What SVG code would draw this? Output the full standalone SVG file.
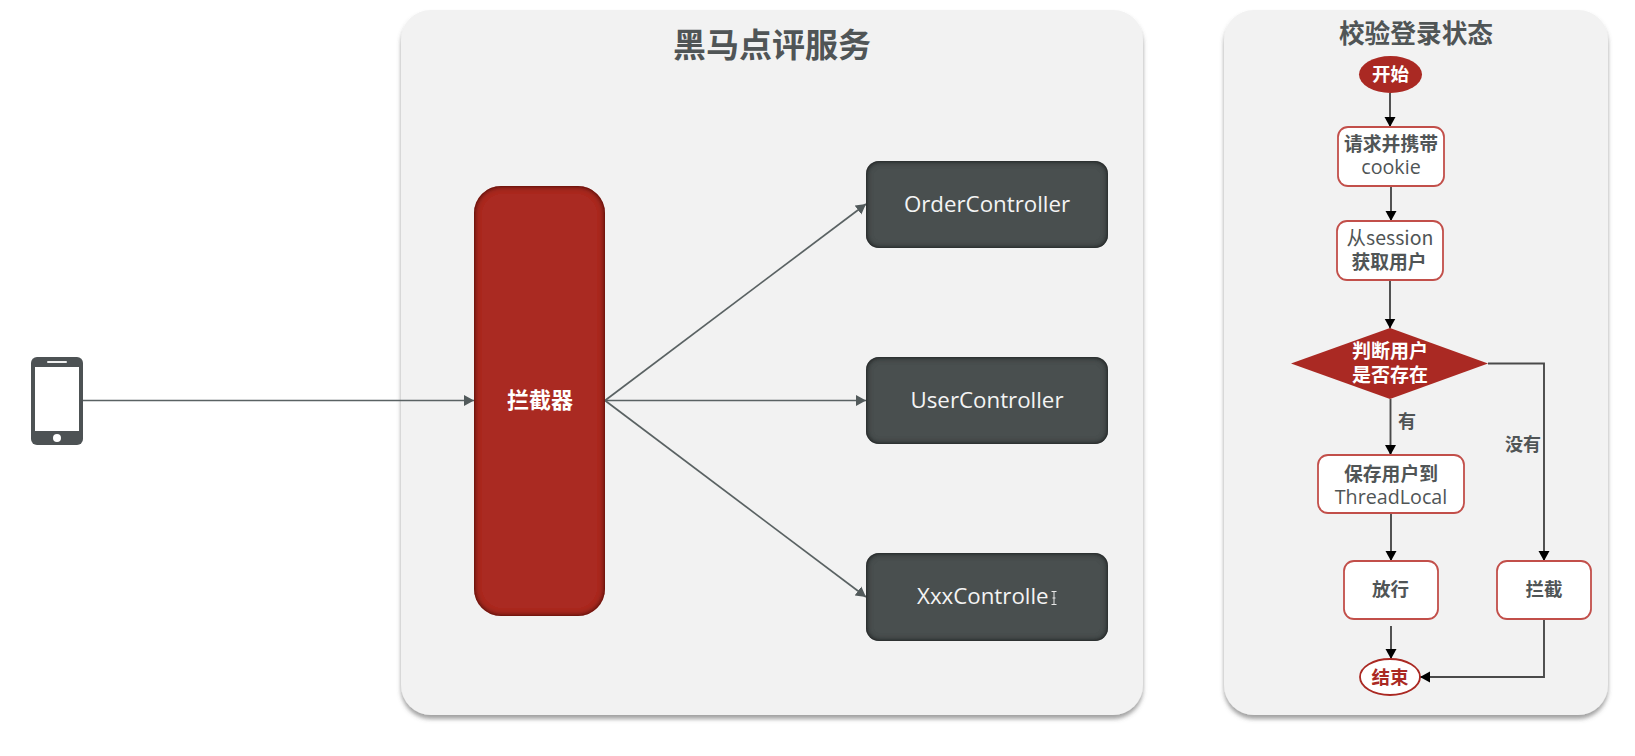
<svg xmlns="http://www.w3.org/2000/svg" width="1635" height="756" viewBox="0 0 1635 756">
<style>
text{font-family:"Open Sans","Noto Sans CJK SC",sans-serif;text-anchor:middle;fill:#505556}
.cjk{font-family:"Noto Sans CJK SC",sans-serif;font-weight:700}
.w{fill:#fff}
.r{fill:#aa2923}
.ctl{font-size:22.300px;fill:#f4f4f4}
.f{font-size:19.700px}
.box{fill:#fff;stroke:#c24f4a;stroke-width:1.800}
.dark{fill:#4a4f50;filter:url(#innerDark)}
.panel{fill:#f2f2f2;filter:url(#panelShadow)}
.gl{fill:none;stroke:#5a6263;stroke-width:1.700}
.bl{fill:none;stroke:#4a4a4a;stroke-width:1.900}
</style>
<defs>
<marker id="ga" markerUnits="userSpaceOnUse" markerWidth="12" markerHeight="12" refX="10" refY="6" orient="auto"><path d="M0 0.500L10 6L0 11.500Z" fill="#525a5b"/></marker>
<marker id="ka" markerUnits="userSpaceOnUse" markerWidth="12" markerHeight="12" refX="10" refY="5.500" orient="auto"><path d="M0 0L10 5.500L0 11Z" fill="#000"/></marker>
<filter id="panelShadow" x="-5%" y="-5%" width="110%" height="110%"><feDropShadow dx="0" dy="4" stdDeviation="2.200" flood-color="#555" flood-opacity="0.55"/></filter>
<filter id="innerDark" x="-5%" y="-5%" width="110%" height="110%">
<feGaussianBlur in="SourceAlpha" stdDeviation="3" result="b"/>
<feComposite in="SourceAlpha" in2="b" operator="arithmetic" k1="-1.600" k2="1.600" k3="0" k4="0" result="e"/>
<feFlood flood-color="#000" flood-opacity="0.8"/><feComposite in2="e" operator="in" result="s"/>
<feMerge><feMergeNode in="SourceGraphic"/><feMergeNode in="s"/></feMerge>
</filter>
</defs>
<rect width="1635" height="756" fill="#fff"/>
<g id="panel-service"><rect class="panel" x="401" y="10" width="742" height="705" rx="30"/><text class="cjk" x="772" y="57" font-size="33">黑马点评服务</text></g>
<g id="panel-check"><rect class="panel" x="1224" y="10" width="384" height="705" rx="30"/><text class="cjk" x="1416" y="42.500" font-size="25.700">校验登录状态</text></g>
<g id="connectors">
<path class="gl" d="M83 400.500H474" marker-end="url(#ga)"/>
<path class="gl" d="M605 400.500L866 204" marker-end="url(#ga)"/>
<path class="gl" d="M605 400.500H866" marker-end="url(#ga)"/>
<path class="gl" d="M605 400.500L866 597" marker-end="url(#ga)"/>
<path class="bl" d="M1390 93V127" marker-end="url(#ka)"/>
<path class="bl" d="M1391 186V221" marker-end="url(#ka)"/>
<path class="bl" d="M1390 280V328.500" marker-end="url(#ka)"/>
<path class="bl" d="M1390.500 399V455" marker-end="url(#ka)"/>
<path class="bl" d="M1391 513V561" marker-end="url(#ka)"/>
<path class="bl" d="M1391 626V659" marker-end="url(#ka)"/>
<path class="bl" d="M1488 363.500H1544V561" marker-end="url(#ka)"/>
<path class="bl" d="M1544 619V677H1420" marker-end="url(#ka)"/>
</g>
<g id="phone"><rect x="31" y="357" width="52" height="88" rx="6" fill="#4d5254"/><rect x="35" y="367" width="44" height="64" fill="#fff"/><rect x="47" y="361" width="20" height="2" rx="1" fill="#f0f0f0"/><ellipse cx="57" cy="438" rx="4" ry="4" fill="#fff"/></g>
<g id="interceptor"><rect x="474" y="186" width="131" height="430" rx="27" fill="#aa2923" filter="url(#innerDark)"/><text class="cjk w" x="540" y="408" font-size="22">拦截器</text></g>
<g id="order"><rect class="dark" x="866" y="161" width="242" height="87" rx="13"/><text class="ctl" x="987" y="212">OrderController</text></g>
<g id="user"><rect class="dark" x="866" y="357" width="242" height="87" rx="13"/><text class="ctl" x="987" y="408">UserController</text></g>
<g id="xxx"><rect class="dark" x="866" y="553" width="242" height="88" rx="13"/><text class="ctl" x="917" y="604" style="text-anchor:start">XxxControlle</text><path d="M1051.500 591.500H1056.500M1054 591.500V604.500M1051.500 604.500H1056.500M1052.500 598H1055.500" fill="none" stroke="#e8e8e8" stroke-width="1"/></g>
<g id="start"><ellipse cx="1390.500" cy="74.500" rx="31.500" ry="18.500" fill="#aa2923"/><text class="cjk w" x="1390.500" y="81" font-size="18.500">开始</text></g>
<g id="req"><rect class="box" x="1338" y="127" width="106" height="59" rx="10"/><text class="cjk" x="1391" y="151" font-size="18.800">请求并携带</text><text class="f" x="1391" y="174">cookie</text></g>
<g id="session"><rect class="box" x="1337" y="221" width="106" height="59" rx="10"/><text x="1390" y="245" font-size="19.500" style="font-family:'Noto Sans CJK SC',sans-serif">从session</text><text class="cjk" x="1389" y="268.500" font-size="18.800">获取用户</text></g>
<g id="decision"><path d="M1291 363.500L1390 328L1488 363.500L1390 399Z" fill="#aa2923"/><text class="cjk w" x="1390" y="358" font-size="19">判断用户</text><text class="cjk w" x="1390" y="382" font-size="19">是否存在</text></g>
<g id="labels"><text class="cjk" x="1407" y="428" font-size="18">有</text><text class="cjk" x="1523" y="451" font-size="18">没有</text></g>
<g id="save"><rect class="box" x="1318" y="455" width="146" height="58" rx="10"/><text class="cjk" x="1391" y="481" font-size="18.800">保存用户到</text><text class="f" x="1391" y="504">ThreadLocal</text></g>
<g id="pass"><rect class="box" x="1344" y="561" width="94" height="58" rx="10"/><text class="cjk" x="1390.500" y="595.500" font-size="18.500">放行</text></g>
<g id="block"><rect class="box" x="1497" y="561" width="94" height="58" rx="10"/><text class="cjk" x="1544" y="595.500" font-size="18.500">拦截</text></g>
<g id="end"><ellipse cx="1390" cy="677" rx="30" ry="18" fill="#fff" stroke="#aa2923" stroke-width="1.800"/><text class="cjk r" x="1390" y="683.500" font-size="18.500">结束</text></g>
</svg>
